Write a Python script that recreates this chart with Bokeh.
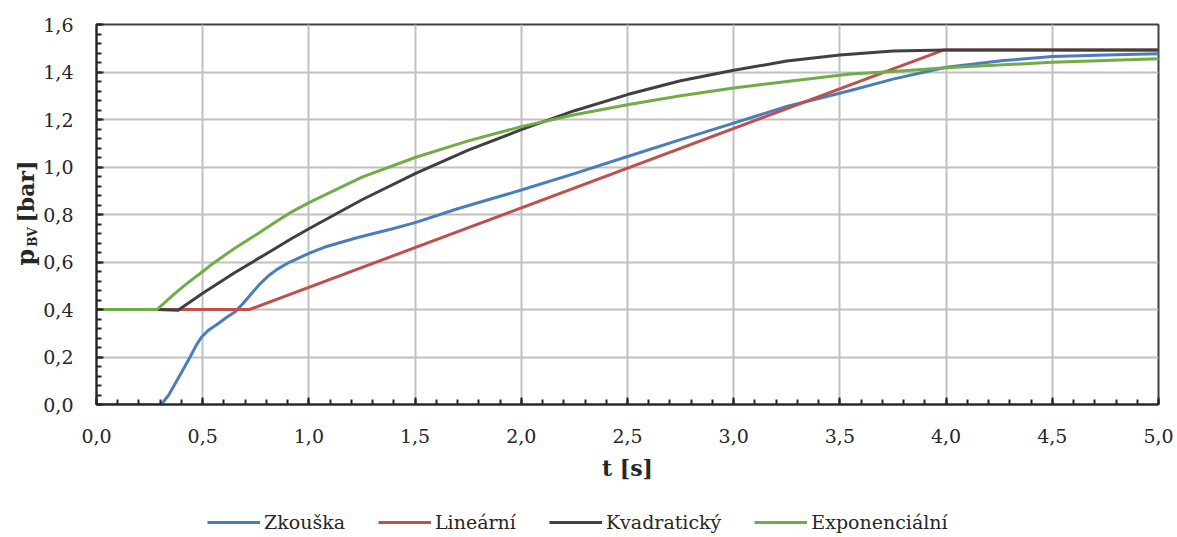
from bokeh.plotting import figure
from bokeh.models import (Range1d, SingleIntervalTicker, CustomJSTickFormatter, Legend,
                          LegendItem, Label)
from bokeh.layouts import row, column
from bokeh.embed import file_html
from bokeh.resources import INLINE
import math

FONT = "DejaVu Serif"

# ---- data ----
t_zkouska = [0.0, 0.305, 0.34, 0.37, 0.40, 0.44, 0.47, 0.494, 0.53, 0.572, 0.61, 0.651, 0.69,
             0.729, 0.77, 0.807, 0.85, 0.90, 0.964, 1.0, 1.075, 1.23, 1.39, 1.5, 1.7, 2.0, 2.25,
             2.5, 2.75, 3.0, 3.25, 3.55, 3.75, 4.0, 4.27, 4.5, 4.75, 5.0]
p_zkouska = [0.0, 0.0, 0.04, 0.087, 0.135, 0.199, 0.25, 0.283, 0.315, 0.34, 0.365, 0.389, 0.425,
             0.466, 0.508, 0.54, 0.569, 0.595, 0.622, 0.636, 0.663, 0.703, 0.739, 0.766, 0.824,
             0.903, 0.972, 1.044, 1.115, 1.185, 1.255, 1.322, 1.37, 1.42, 1.448, 1.465, 1.472,
             1.477]

t_linearni = [0.0, 0.72, 3.99, 5.0]
p_linearni = [0.4, 0.4, 1.493, 1.493]

t_kvadraticky = [0.0, 0.29, 0.384, 0.5, 0.65, 0.8, 0.917, 1.0, 1.25, 1.5, 1.75, 2.0,
                 2.25, 2.5, 2.75, 3.0, 3.25, 3.5, 3.75, 4.0, 5.0]
p_kvadraticky = [0.4, 0.4, 0.397, 0.468, 0.555, 0.635, 0.698, 0.74, 0.862, 0.972, 1.071,
                 1.157, 1.237, 1.305, 1.363, 1.407, 1.446, 1.472, 1.488, 1.493, 1.493]

t_exponencialni = [0.0, 0.285, 0.368, 0.431, 0.494, 0.55, 0.651, 0.75, 0.85, 0.917, 1.0, 1.25,
                   1.5, 1.75, 2.0, 2.25, 2.5, 2.75, 3.0, 3.25, 3.55, 3.75, 4.0, 4.5, 5.0]
p_exponencialni = [0.4, 0.4, 0.467, 0.513, 0.556, 0.595, 0.658, 0.714, 0.773, 0.81, 0.85, 0.957,
                   1.04, 1.11, 1.17, 1.22, 1.262, 1.30, 1.333, 1.36, 1.392, 1.402, 1.418, 1.441,
                   1.456]

series_t = [t_zkouska, t_linearni, t_kvadraticky, t_exponencialni]
series_p = [p_zkouska, p_linearni, p_kvadraticky, p_exponencialni]
series_names = ["Zkouška", "Lineární", "Kvadratický", "Exponenciální"]
series_colors = ["#4a7ebb", "#c0504d", "#404040", "#70ad47"]

x_label = "t [s]"
y_label_main = "p"
y_label_sub = "BV"
y_label_unit = "[bar]"

W, H = 1177, 537
LW = 40          # strip holding the y-axis title
LEG_H = 32       # strip holding the legend
MAIN_H = H - LEG_H
TOP, BOTTOM = 24, MAIN_H - 404

p = figure(width=W - LW, height=MAIN_H, output_backend="svg", toolbar_location=None,
           x_range=Range1d(0, 5), y_range=Range1d(0, 1.6),
           min_border_left=55, min_border_right=19, min_border_top=TOP, min_border_bottom=BOTTOM,
           background_fill_color="white", border_fill_color="white")

p.outline_line_color = "#404040"
p.outline_line_width = 2

for tx, py, col in zip(series_t, series_p, series_colors):
    p.line(tx, py, line_color=col, line_width=3, line_join="round", line_cap="round")

fmt = CustomJSTickFormatter(code="return tick.toFixed(1).replace('.', ',');")

p.xaxis.ticker = SingleIntervalTicker(interval=0.5, num_minor_ticks=5)
p.yaxis.ticker = SingleIntervalTicker(interval=0.2, num_minor_ticks=5)
for ax in (p.xaxis[0], p.yaxis[0]):
    ax.formatter = fmt
    ax.axis_line_color = "#262626"
    ax.axis_line_width = 2
    ax.major_tick_in = 7
    ax.major_tick_out = 0
    ax.minor_tick_in = 5
    ax.minor_tick_out = 0
    ax.major_tick_line_color = "#262626"
    ax.major_tick_line_width = 2
    ax.minor_tick_line_color = "#262626"
    ax.minor_tick_line_width = 2
    ax.major_label_text_font = FONT
    ax.major_label_text_font_size = "19px"
    ax.major_label_text_color = "#262626"

p.xaxis.major_label_standoff = 24
p.yaxis.major_label_standoff = 23
p.xaxis.axis_label = x_label
p.xaxis.axis_label_text_font = FONT
p.xaxis.axis_label_text_font_style = "bold"
p.xaxis.axis_label_text_font_size = "22px"
p.xaxis.axis_label_text_color = "#262626"
p.xaxis.axis_label_standoff = 9

p.xgrid.grid_line_color = "#c0c0c0"
p.xgrid.grid_line_width = 2
p.ygrid.grid_line_color = "#c0c0c0"
p.ygrid.grid_line_width = 2

# ---- strip with the y-axis title (p with subscript BV, then unit) ----
ylab = figure(width=LW, height=MAIN_H, output_backend="svg", toolbar_location=None,
              x_range=Range1d(0, LW), y_range=p.y_range,
              x_axis_type=None, y_axis_type=None,
              min_border_left=0, min_border_right=0, min_border_top=TOP, min_border_bottom=BOTTOM,
              background_fill_color="white", border_fill_color="white")
ylab.outline_line_color = None
ylab.xgrid.visible = False
ylab.ygrid.visible = False
lab_common = dict(angle=math.pi / 2, text_font=FONT, text_font_style="bold",
                  text_color="#262626", text_align="left", text_baseline="alphabetic")
ylab.add_layout(Label(x=25, y=0.585, text=y_label_main, text_font_size="24px", **lab_common))
ylab.add_layout(Label(x=32, y=0.664, text=y_label_sub, text_font_size="12px", **lab_common))
ylab.add_layout(Label(x=25, y=0.766, text=y_label_unit, text_font_size="22px", **lab_common))

# ---- legend strip (series drawn off-view so only the legend shows) ----
leg = figure(width=W, height=LEG_H, output_backend="svg", toolbar_location=None,
             x_range=Range1d(-20, -19), y_range=Range1d(-20, -19),
             x_axis_type=None, y_axis_type=None, min_border=0,
             background_fill_color="white", border_fill_color="white")
leg.outline_line_color = None
leg.xgrid.visible = False
leg.ygrid.visible = False
leg_renderers = [leg.line(tx, py, line_color=c, line_width=3)
                 for tx, py, c in zip(series_t, series_p, series_colors)]
legend = Legend(items=[LegendItem(label=n, renderers=[r]) for n, r in zip(series_names, leg_renderers)],
                orientation="horizontal", location=(207, 4),
                label_text_font=FONT, label_text_font_size="19px", label_text_color="#262626",
                glyph_width=53, label_standoff=4, spacing=33, padding=0, margin=0,
                border_line_color=None, background_fill_alpha=0)
leg.add_layout(legend, "center")

layout = column(row(ylab, p, spacing=0), leg, spacing=0)
open("out.html", "w").write(file_html(layout, INLINE))
